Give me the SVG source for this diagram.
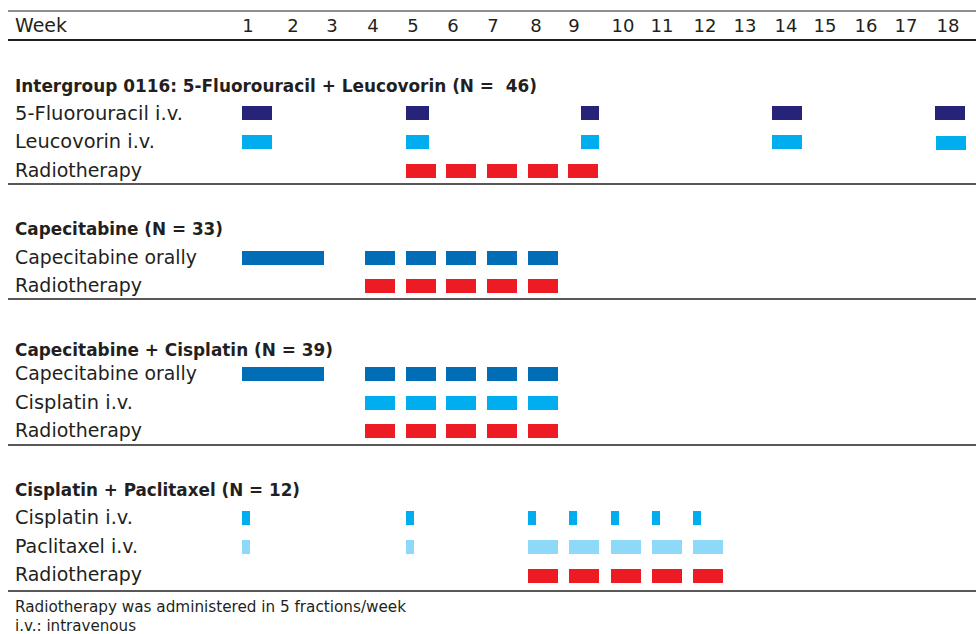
<svg xmlns="http://www.w3.org/2000/svg" width="976" height="634" viewBox="0 0 976 634">
<style>
text{font-family:"DejaVu Sans","Liberation Sans",sans-serif;fill:#231f20}
.lbl{font-size:19px}
.ttl{font-size:18.5px;font-weight:bold}
.wk{font-size:18px;text-anchor:middle}
.ft{font-size:16px}
.rule{stroke:#231f20;stroke-width:1.6}
.fu{fill:#262378}.lv{fill:#00aeef}.rt{fill:#ed1c24}.cp{fill:#006db6}.ci{fill:#00aeef}.pt{fill:#8ed8f8}
</style>
<rect width="976" height="634" fill="#fff"/>
<g id="header">
<line x1="8" y1="11" x2="976" y2="11" stroke="#231f20" stroke-width="1"/>
<line x1="8" y1="40" x2="976" y2="40" stroke="#231f20" stroke-width="2.2"/>
<text class="lbl" x="15" y="32" textLength="52" lengthAdjust="spacingAndGlyphs">Week</text>
<text class="wk" x="248" y="32">1</text><text class="wk" x="293" y="32">2</text><text class="wk" x="332" y="32">3</text>
<text class="wk" x="373" y="32">4</text><text class="wk" x="413" y="32">5</text><text class="wk" x="453" y="32">6</text>
<text class="wk" x="493" y="32">7</text><text class="wk" x="536" y="32">8</text><text class="wk" x="574" y="32">9</text>
<text class="wk" x="623" y="32">10</text><text class="wk" x="662" y="32">11</text><text class="wk" x="705" y="32">12</text>
<text class="wk" x="745" y="32">13</text><text class="wk" x="786" y="32">14</text><text class="wk" x="825" y="32">15</text>
<text class="wk" x="866" y="32">16</text><text class="wk" x="906" y="32">17</text><text class="wk" x="948" y="32">18</text>
</g>
<g id="section1">
<text class="ttl" x="15" y="92" textLength="522" lengthAdjust="spacingAndGlyphs" style="white-space:pre">Intergroup 0116: 5-Fluorouracil + Leucovorin (N =  46)</text>
<g id="s1-fluorouracil">
<text class="lbl" x="15" y="120" textLength="168" lengthAdjust="spacingAndGlyphs">5-Fluorouracil i.v.</text>
<rect class="fu" x="242" y="106" width="30" height="14"/><rect class="fu" x="406" y="106" width="23" height="14"/><rect class="fu" x="581" y="106" width="18" height="14"/><rect class="fu" x="772" y="106" width="30" height="14"/><rect class="fu" x="935" y="106" width="30" height="14"/>
</g>
<g id="s1-leucovorin">
<text class="lbl" x="15" y="148" textLength="140" lengthAdjust="spacingAndGlyphs">Leucovorin i.v.</text>
<rect class="lv" x="242" y="135" width="30" height="14"/><rect class="lv" x="406" y="135" width="23" height="14"/><rect class="lv" x="581" y="135" width="18" height="14"/><rect class="lv" x="772" y="135" width="30" height="14"/><rect class="lv" x="936" y="136" width="30" height="14"/>
</g>
<g id="s1-radiotherapy">
<text class="lbl" x="15" y="177" textLength="127" lengthAdjust="spacingAndGlyphs">Radiotherapy</text>
<rect class="rt" x="406" y="164" width="30" height="14"/><rect class="rt" x="446" y="164" width="30" height="14"/><rect class="rt" x="487" y="164" width="30" height="14"/><rect class="rt" x="528" y="164" width="30" height="14"/><rect class="rt" x="568" y="164" width="30" height="14"/>
</g>
</g>
<g id="section2">
<text class="ttl" x="15" y="235" textLength="208" lengthAdjust="spacingAndGlyphs">Capecitabine (N = 33)</text>
<g id="s2-capecitabine">
<text class="lbl" x="15" y="264" textLength="182" lengthAdjust="spacingAndGlyphs">Capecitabine orally</text>
<rect class="cp" x="242" y="251" width="82" height="14"/><rect class="cp" x="365" y="251" width="30" height="14"/><rect class="cp" x="406" y="251" width="30" height="14"/><rect class="cp" x="446" y="251" width="30" height="14"/><rect class="cp" x="487" y="251" width="30" height="14"/><rect class="cp" x="528" y="251" width="30" height="14"/>
</g>
<g id="s2-radiotherapy">
<text class="lbl" x="15" y="292" textLength="127" lengthAdjust="spacingAndGlyphs">Radiotherapy</text>
<rect class="rt" x="365" y="279" width="30" height="14"/><rect class="rt" x="406" y="279" width="30" height="14"/><rect class="rt" x="446" y="279" width="30" height="14"/><rect class="rt" x="487" y="279" width="30" height="14"/><rect class="rt" x="528" y="279" width="30" height="14"/>
</g>
</g>
<g id="section3">
<text class="ttl" x="15" y="356" textLength="318" lengthAdjust="spacingAndGlyphs">Capecitabine + Cisplatin (N = 39)</text>
<g id="s3-capecitabine">
<text class="lbl" x="15" y="380" textLength="182" lengthAdjust="spacingAndGlyphs">Capecitabine orally</text>
<rect class="cp" x="242" y="367" width="82" height="14"/><rect class="cp" x="365" y="367" width="30" height="14"/><rect class="cp" x="406" y="367" width="30" height="14"/><rect class="cp" x="446" y="367" width="30" height="14"/><rect class="cp" x="487" y="367" width="30" height="14"/><rect class="cp" x="528" y="367" width="30" height="14"/>
</g>
<g id="s3-cisplatin">
<text class="lbl" x="15" y="409" textLength="118" lengthAdjust="spacingAndGlyphs">Cisplatin i.v.</text>
<rect class="ci" x="365" y="396" width="30" height="14"/><rect class="ci" x="406" y="396" width="30" height="14"/><rect class="ci" x="446" y="396" width="30" height="14"/><rect class="ci" x="487" y="396" width="30" height="14"/><rect class="ci" x="528" y="396" width="30" height="14"/>
</g>
<g id="s3-radiotherapy">
<text class="lbl" x="15" y="437" textLength="127" lengthAdjust="spacingAndGlyphs">Radiotherapy</text>
<rect class="rt" x="365" y="424" width="30" height="14"/><rect class="rt" x="406" y="424" width="30" height="14"/><rect class="rt" x="446" y="424" width="30" height="14"/><rect class="rt" x="487" y="424" width="30" height="14"/><rect class="rt" x="528" y="424" width="30" height="14"/>
</g>
</g>
<g id="section4">
<text class="ttl" x="15" y="496" textLength="285" lengthAdjust="spacingAndGlyphs">Cisplatin + Paclitaxel (N = 12)</text>
<g id="s4-cisplatin">
<text class="lbl" x="15" y="524" textLength="118" lengthAdjust="spacingAndGlyphs">Cisplatin i.v.</text>
<rect class="ci" x="242" y="511" width="8" height="14"/><rect class="ci" x="406" y="511" width="8" height="14"/><rect class="ci" x="528" y="511" width="8" height="14"/><rect class="ci" x="569" y="511" width="8" height="14"/><rect class="ci" x="611" y="511" width="8" height="14"/><rect class="ci" x="652" y="511" width="8" height="14"/><rect class="ci" x="693" y="511" width="8" height="14"/>
</g>
<g id="s4-paclitaxel">
<text class="lbl" x="15" y="553" textLength="123" lengthAdjust="spacingAndGlyphs">Paclitaxel i.v.</text>
<rect class="pt" x="242" y="540" width="8" height="14"/><rect class="pt" x="406" y="540" width="8" height="14"/><rect class="pt" x="528" y="540" width="30" height="14"/><rect class="pt" x="569" y="540" width="30" height="14"/><rect class="pt" x="611" y="540" width="30" height="14"/><rect class="pt" x="652" y="540" width="30" height="14"/><rect class="pt" x="693" y="540" width="30" height="14"/>
</g>
<g id="s4-radiotherapy">
<text class="lbl" x="15" y="581" textLength="127" lengthAdjust="spacingAndGlyphs">Radiotherapy</text>
<rect class="rt" x="528" y="569" width="30" height="14"/><rect class="rt" x="569" y="569" width="30" height="14"/><rect class="rt" x="611" y="569" width="30" height="14"/><rect class="rt" x="652" y="569" width="30" height="14"/><rect class="rt" x="693" y="569" width="30" height="14"/>
</g>
</g>
<g id="rules">
<line class="rule" x1="8" y1="184" x2="976" y2="184" stroke-width="2"/>
<line class="rule" x1="8" y1="299" x2="976" y2="299"/>
<line class="rule" x1="8" y1="445" x2="976" y2="445"/>
<line class="rule" x1="8" y1="591" x2="976" y2="591" stroke-width="2"/>
</g>
<g id="footer">
<text class="ft" x="15" y="612" textLength="391" lengthAdjust="spacingAndGlyphs">Radiotherapy was administered in 5 fractions/week</text>
<text class="ft" x="15" y="631" textLength="121" lengthAdjust="spacingAndGlyphs">i.v.: intravenous</text>
</g>
</svg>
